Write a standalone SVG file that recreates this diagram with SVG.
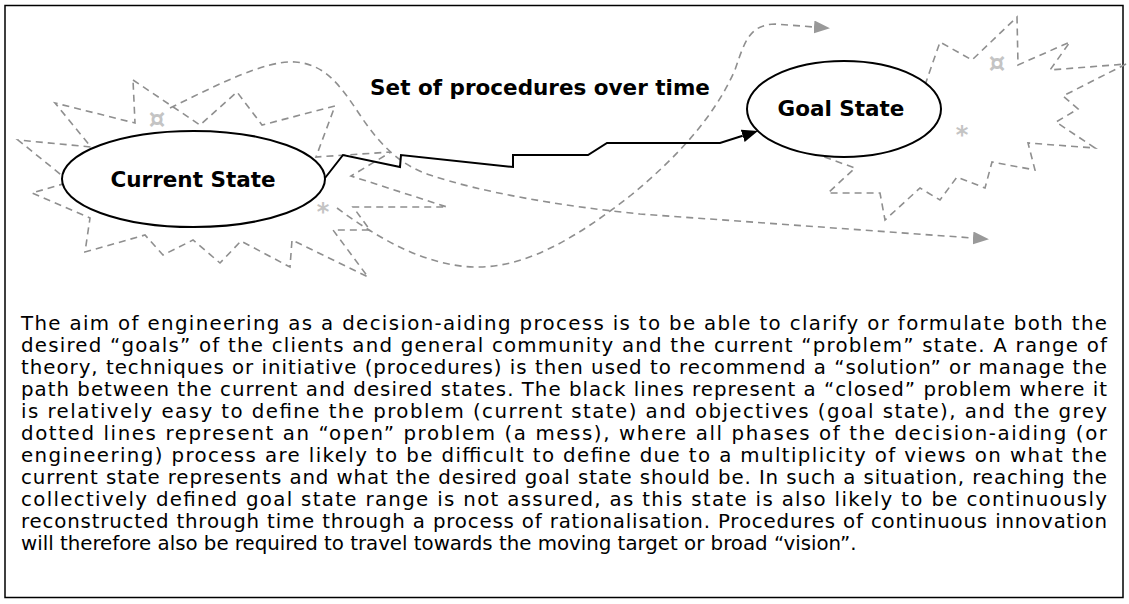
<svg xmlns="http://www.w3.org/2000/svg" width="1129" height="604" viewBox="0 0 1129 604">
<style>
.dash{fill:none;stroke:#8f8f8f;stroke-width:1.6;stroke-dasharray:7 5;}
.node{fill:#fff;stroke:#000;stroke-width:2;}
.lbl{font-family:"DejaVu Sans",Verdana,sans-serif;font-weight:bold;font-size:21.5px;fill:#000;}
.sym{font-family:"DejaVu Sans",sans-serif;font-weight:bold;fill:#c4c4c4;text-anchor:middle;}
.para{font-family:"DejaVu Sans",Verdana,sans-serif;font-size:19.8px;fill:#000;}
</style>
<defs>
<marker id="ag" markerUnits="userSpaceOnUse" markerWidth="16" markerHeight="13" viewBox="0 0 16 13" refX="0" refY="6.5" orient="auto"><path d="M0,0 L16,6.5 L0,13 z" fill="#999"/></marker>
<marker id="ab" markerUnits="userSpaceOnUse" markerWidth="16" markerHeight="13" viewBox="0 0 16 13" refX="0" refY="6.5" orient="auto"><path d="M0,0 L16,6.5 L0,13 z" fill="#000"/></marker>
</defs>
<rect x="5" y="5.5" width="1118" height="592" fill="#fff" stroke="#000" stroke-width="1.5"/>
<g id="open-problem">
<polygon class="dash" points="133,80 200,125 237,92 262,125 335,106 316,157 391,152 351,176 447,207 353,207 370,230 333,230 368,277 292,240 290,267 241,241 220,263 193,240 163,255 145,235 85,252 90,218 32,193 70,182 18,140 91,147 55,103 135,123"/>
<polygon class="dash" points="925,85 940,42 972,60 1017,17 1018,65 1070,42 1050,70 1126,64 1063,96 1078,109 1056,122 1095,148 1028,143 1035,170 992,162 985,188 957,177 940,200 920,188 885,220 880,193 828,193 855,168 805,150"/>
<text class="sym" x="157" y="128" font-size="26">¤</text>
<text class="sym" x="323" y="220" font-size="24">*</text>
<text class="sym" x="997" y="72" font-size="26">¤</text>
<text class="sym" x="962" y="143" font-size="24">*</text>
</g>
<g id="connectors">
<path class="dash" d="M170,108 C215,86 265,60 295,62 C325,64 340,85 360,115 C380,145 400,165 430,175 C480,192 560,206 640,214 L973,238" marker-end="url(#ag)"/>
<path class="dash" d="M337,208 C380,240 430,268 480,267 C530,266 580,235 630,196 C680,155 715,115 735,70 C745,40 750,25 775,24 L814,27" marker-end="url(#ag)"/>
</g>
<g id="current-state">
<ellipse class="node" cx="193.5" cy="179" rx="131.5" ry="48"/>
<text class="lbl" x="193" y="187" text-anchor="middle">Current State</text>
</g>
<g id="goal-state">
<ellipse class="node" cx="844" cy="109" rx="97" ry="48"/>
<text class="lbl" x="841" y="116" text-anchor="middle">Goal State</text>
</g>
<g id="closed-path">
<path d="M325,178 L343,155 L400,167 L401,155 L513,167 L513,155 L588,155 L607,143 L720,143 L742.7,135.8" fill="none" stroke="#000" stroke-width="2" marker-end="url(#ab)"/>
<text class="lbl" x="540" y="95" text-anchor="middle">Set of procedures over time</text>
</g>
<g id="caption">
<text class="para" x="21" y="330" textLength="1086" lengthAdjust="spacing">The aim of engineering as a decision-aiding process is to be able to clarify or formulate both the</text>
<text class="para" x="21" y="352" textLength="1086" lengthAdjust="spacing">desired “goals” of the clients and general community and the current “problem” state. A range of</text>
<text class="para" x="21" y="374" textLength="1086" lengthAdjust="spacing">theory, techniques or initiative (procedures) is then used to recommend a “solution” or manage the</text>
<text class="para" x="21" y="396" textLength="1086" lengthAdjust="spacing">path between the current and desired states. The black lines represent a “closed” problem where it</text>
<text class="para" x="21" y="418" textLength="1086" lengthAdjust="spacing">is relatively easy to define the problem (current state) and objectives (goal state), and the grey</text>
<text class="para" x="21" y="440" textLength="1086" lengthAdjust="spacing">dotted lines represent an “open” problem (a mess), where all phases of the decision-aiding (or</text>
<text class="para" x="21" y="462" textLength="1086" lengthAdjust="spacing">engineering) process are likely to be difficult to define due to a multiplicity of views on what the</text>
<text class="para" x="21" y="484" textLength="1086" lengthAdjust="spacing">current state represents and what the desired goal state should be. In such a situation, reaching the</text>
<text class="para" x="21" y="506" textLength="1086" lengthAdjust="spacing">collectively defined goal state range is not assured, as this state is also likely to be continuously</text>
<text class="para" x="21" y="528" textLength="1086" lengthAdjust="spacing">reconstructed through time through a process of rationalisation. Procedures of continuous innovation</text>
<text class="para" x="21" y="550">will therefore also be required to travel towards the moving target or broad “vision”.</text>
</g>
</svg>
